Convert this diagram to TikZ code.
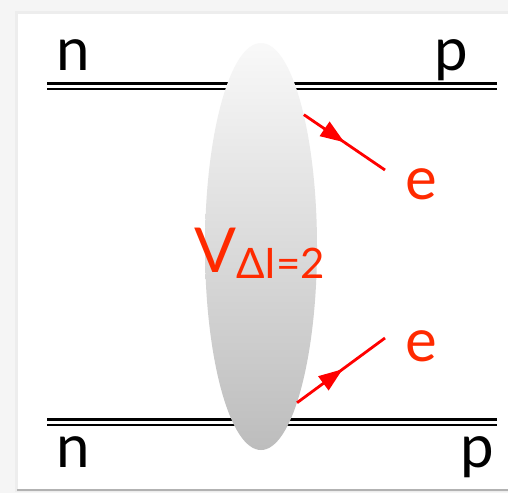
\documentclass[tikz,border=0pt]{standalone}
\usepackage{fontspec}
\setmainfont{Lato}
\usetikzlibrary{shapes.geometric,arrows.meta,decorations.markings}
\definecolor{lblred}{HTML}{FF2A00}
\definecolor{linered}{HTML}{FF0000}
\tikzset{
  nucleon/.style={line width=2.4pt, draw=black, double=white, double distance=3pt},
  lbl/.style={inner sep=0pt, anchor=base west, font=\fontsize{60}{60}\selectfont},
  elbl/.style={lbl, text=lblred},
  lepton/.style={draw=linered, line width=2.8pt, postaction={decorate},
    decoration={markings, mark=at position #1 with {\arrow{Triangle[length=24pt,width=17pt]}}}},
  lepton/.default=0.5,
}
\begin{document}
\begin{tikzpicture}[x=1pt,y=-1pt,line cap=butt]
\useasboundingbox (0,0) rectangle (508,493);
% background and panel
\fill[gray!8] (0,0) rectangle (508,493);
\fill[gray!14] (15,11) rectangle (508,492);
\fill[white] (18,14) rectangle (508,489);
\draw[gray!60, line width=1.5pt] (17,490) -- (508,490);
% nucleon lines
\coordinate (tl) at (47,86);
\coordinate (tr) at (497,86);
\coordinate (bl) at (47,422);
\coordinate (br) at (497,422);
\draw[nucleon] (tl) -- (tr);
\draw[nucleon] (bl) -- (br);
% blob
\node[ellipse, minimum width=112pt, minimum height=407pt, inner sep=0pt,
      top color=gray!5, bottom color=gray!52, draw=none] (blob) at (261,246.5) {};
% electrons
\coordinate (e1end) at (385,170);
\coordinate (e2end) at (385,338);
\draw[lepton=0.5] (blob.72) -- (e1end);
\draw[lepton=0.52] (blob.-77) -- (e2end);
% labels
\node[lbl] (n1) at (56,70) {n};
\node[lbl] (p1) at (434,70) {p};
\node[lbl] (n2) at (56,467) {n};
\node[lbl] (p2) at (460,467) {p};
\node[elbl] (e1) at (405,199) {e};
\node[elbl] (e2) at (405,361) {e};
\node[inner sep=0pt, anchor=base west, text=lblred] (V) at (194,272)
  {\fontsize{62}{62}\selectfont V\raisebox{-6pt}{\fontsize{42}{42}\selectfont ΔI=2}};
\end{tikzpicture}
\end{document}
